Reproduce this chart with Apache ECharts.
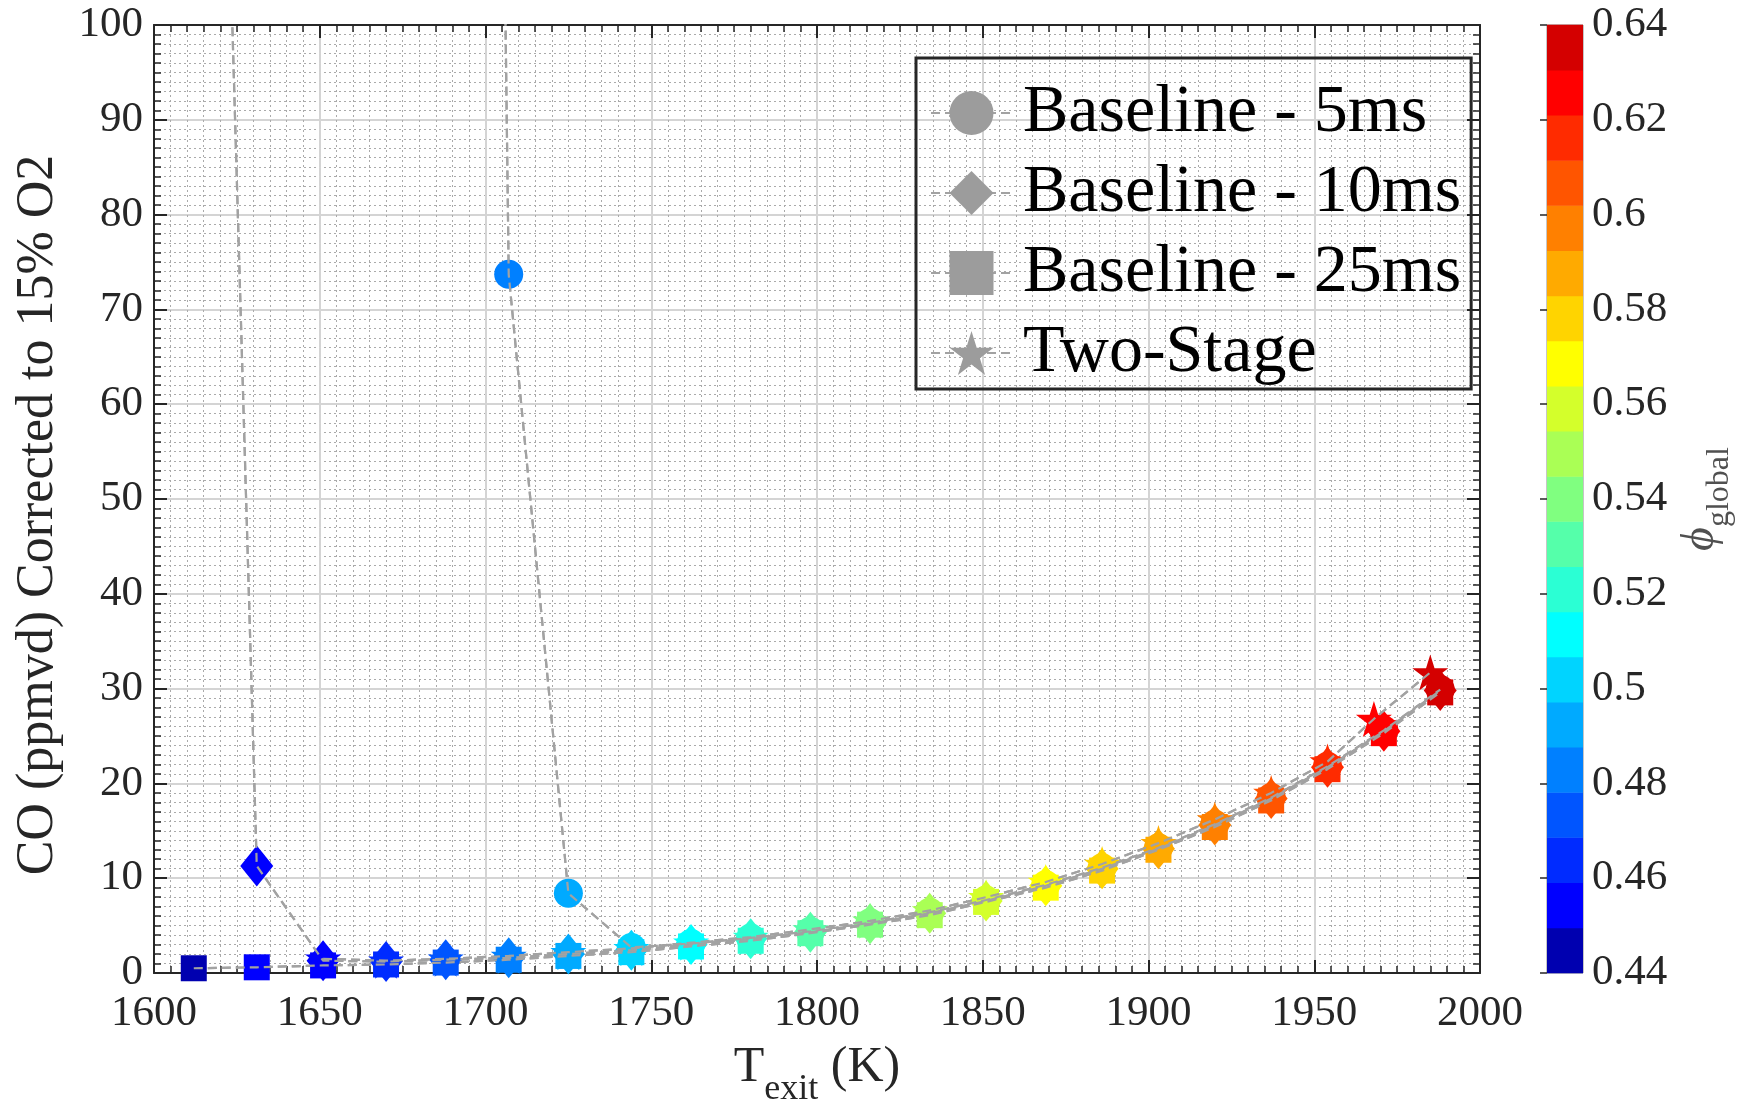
<!DOCTYPE html>
<html><head><meta charset="utf-8">
<script src="https://cdn.jsdelivr.net/npm/echarts@6/dist/echarts.min.js"></script>
<style>html,body{margin:0;padding:0;background:#fff;} #c{width:1748px;height:1112px;}</style>
</head><body><div id="c"></div>
<script>
// ---------- data ----------
const T        = [1612, 1631, 1651, 1670, 1688, 1707, 1725, 1744, 1762, 1780, 1798, 1816, 1834, 1851, 1869, 1886, 1903, 1920, 1937, 1954, 1971, 1988];
const PHI      = [0.442, 0.451, 0.458, 0.466, 0.475, 0.484, 0.494, 0.503, 0.513, 0.522, 0.532, 0.541, 0.551, 0.560, 0.570, 0.579, 0.589, 0.598, 0.608, 0.617, 0.627, 0.636];
const CO_5MS   = [null, null, null, null, 600, 73.7, 8.4, 2.7, 3.1, 3.7, 4.4, 5.3, 6.4, 7.7, 9.3, 11.1, 13.2, 15.7, 18.5, 21.8, 25.6, 29.9];
const CO_10MS  = [240, 11.3, 1.3, 1.2, 1.4, 1.6, 2.0, 2.4, 3.0, 3.6, 4.3, 5.2, 6.3, 7.6, 9.2, 11.0, 13.1, 15.6, 18.4, 21.7, 25.5, 29.8];
const CO_25MS  = [0.5, 0.6, 0.8, 0.9, 1.1, 1.4, 1.8, 2.2, 2.8, 3.4, 4.2, 5.1, 6.1, 7.5, 9.0, 10.8, 13.0, 15.4, 18.2, 21.5, 25.3, 29.6];
const T_TWO    = [1651, 1670, 1688, 1707, 1725, 1744, 1762, 1780, 1798, 1816, 1834, 1851, 1869, 1886, 1903, 1920, 1937, 1954, 1968, 1985];
const PHI_TWO  = [0.458, 0.466, 0.475, 0.484, 0.494, 0.503, 0.513, 0.522, 0.532, 0.541, 0.551, 0.560, 0.570, 0.579, 0.589, 0.598, 0.608, 0.617, 0.627, 0.636];
const CO_TWO   = [1.5, 1.3, 1.5, 1.8, 2.2, 2.6, 3.2, 3.8, 4.6, 5.5, 6.6, 8.0, 9.6, 11.5, 13.7, 16.2, 19.0, 22.3, 26.8, 31.7];
const SERIES_NAMES = ['Baseline - 5ms', 'Baseline - 10ms', 'Baseline - 25ms', 'Two-Stage'];
// colour map (jet, 21 levels) and its limits
const CB_COLORS = ['#0000B0', '#0000FF', '#002BFF', '#0055FF', '#0080FF', '#00AAFF', '#00D4FF', '#00FFFF', '#2BFFD4', '#55FFAA', '#80FF80', '#AAFF55', '#D4FF2B', '#FFFF00', '#FFD400', '#FFAA00', '#FF8000', '#FF5500', '#FF2B00', '#FF0000', '#D40000'];
const CB_MIN = 0.44, CB_MAX = 0.64, CB_STEP = 0.02;

// ---------- helpers ----------
const FONT = "'Liberation Serif', 'Times New Roman', serif";
const INK = '#262626';
const LINE = { color: '#a2a2a2', width: 2.2, type: [9, 5] };
const STAR = 'path://M0,-100L22.45,-30.9L95.1,-30.9L36.3,11.8L58.8,80.9L0,38.2L-58.8,80.9L-36.3,11.8L-95.1,-30.9L-22.45,-30.9Z';

function colorOf(phi) {
  const n = CB_COLORS.length;
  let k = Math.floor((phi - CB_MIN) / (CB_MAX - CB_MIN) * n);
  k = Math.max(0, Math.min(n - 1, k));
  return CB_COLORS[k];
}
function pts(xs, ys) {
  const out = [];
  xs.forEach((x, i) => { if (ys[i] !== null) out.push([x, ys[i]]); });
  return out;
}
function coloredPts(xs, ys, phis) {
  const out = [];
  xs.forEach((x, i) => { if (ys[i] !== null) out.push({ value: [x, ys[i]], itemStyle: { color: colorOf(phis[i]) } }); });
  return out;
}
function markerSeries(name, xs, ys, phis, symbol, size) {
  return {
    type: 'line', name: name, data: coloredPts(xs, ys, phis),
    symbol: symbol, symbolSize: size, showSymbol: true, showAllSymbol: true,
    lineStyle: LINE, itemStyle: { color: '#9c9c9c' },
    clip: true, z: 2, emphasis: { disabled: true }, silent: true
  };
}
function lineSeries(key, xs, ys) {
  return {
    type: 'line', name: '_line_' + key, data: pts(xs, ys), symbol: 'none',
    lineStyle: LINE, clip: true, z: 3, silent: true, emphasis: { disabled: true }
  };
}

const series = [
  markerSeries(SERIES_NAMES[2], T, CO_25MS, PHI, 'rect', 26),
  markerSeries(SERIES_NAMES[1], T, CO_10MS, PHI, 'diamond', [33, 41]),
  markerSeries(SERIES_NAMES[0], T, CO_5MS, PHI, 'circle', 29),
  markerSeries(SERIES_NAMES[3], T_TWO, CO_TWO, PHI_TWO, STAR, 36),
  lineSeries('25', T, CO_25MS),
  lineSeries('10', T, CO_10MS),
  lineSeries('5', T, CO_5MS),
  lineSeries('two', T_TWO, CO_TWO),
  {
    type: 'custom', xAxisIndex: 2, yAxisIndex: 2, silent: true,
    data: CB_COLORS.map((c, k) => [0.5, CB_MIN + k * (CB_MAX - CB_MIN) / CB_COLORS.length, CB_MIN + (k + 1) * (CB_MAX - CB_MIN) / CB_COLORS.length]),
    encode: { x: 0, y: [1, 2] },
    renderItem: function (params, api) {
      const a = api.coord([0, api.value(2)]);
      const b = api.coord([1, api.value(1)]);
      return { type: 'rect', shape: { x: a[0], y: a[1] - 0.3, width: b[0] - a[0], height: b[1] - a[1] + 0.6 },
               style: { fill: CB_COLORS[params.dataIndex] } };
    }
  }
];

const tickLabel = { fontFamily: FONT, fontSize: 43, color: INK, formatter: v => String(v) };
const boxAxisCommon = {
  axisLine: { show: true, onZero: false, lineStyle: { color: INK, width: 2 } },
  axisTick: { show: true, inside: true, length: 13, lineStyle: { color: INK, width: 2 } },
  minorTick: { show: true, splitNumber: 10, length: 7, lineStyle: { color: INK, width: 1.5 } }
};

const option = {
  animation: false,
  backgroundColor: '#ffffff',
  grid: [
    { left: 154, top: 25, width: 1326, height: 948, containLabel: false, outerBoundsMode: 'none' },
    { left: 1547, top: 25, width: 36, height: 948, show: true, borderColor: '#8c8c8c', borderWidth: 1, containLabel: false, outerBoundsMode: 'none' }
  ],
  xAxis: [
    Object.assign({
      type: 'value', gridIndex: 0, position: 'bottom', min: 1600, max: 2000, interval: 50,
      axisLabel: Object.assign({ margin: 19 }, tickLabel),
      splitLine: { show: true, lineStyle: { color: '#d4d4d4', width: 2 } },
      minorSplitLine: { show: true, lineStyle: { color: '#aaaaaa', width: 1, type: [2, 3] } },
      name: '{a|T}{b|exit}{a| (K)}', nameLocation: 'middle', nameGap: 55,
      nameTextStyle: { rich: {
        a: { fontFamily: FONT, fontSize: 50, color: INK, lineHeight: 80 },
        b: { fontFamily: FONT, fontSize: 36, color: INK, verticalAlign: 'bottom' }
      } }
    }, boxAxisCommon),
    Object.assign({
      type: 'value', gridIndex: 0, position: 'top', min: 1600, max: 2000, interval: 50,
      axisLabel: { show: false }, splitLine: { show: false }, minorSplitLine: { show: false }
    }, boxAxisCommon),
    { type: 'value', gridIndex: 1, min: 0, max: 1, show: false }
  ],
  yAxis: [
    Object.assign({
      type: 'value', gridIndex: 0, position: 'left', min: 0, max: 100, interval: 10,
      axisLabel: Object.assign({ margin: 11 }, tickLabel),
      splitLine: { show: true, lineStyle: { color: '#d4d4d4', width: 2 } },
      minorSplitLine: { show: true, lineStyle: { color: '#aaaaaa', width: 1, type: [2, 3] } },
      name: 'CO (ppmvd) Corrected to 15% O2', nameLocation: 'middle', nameGap: 90,
      nameTextStyle: { fontFamily: FONT, fontSize: 52, color: INK, padding: [0, 32, 0, 0] }
    }, boxAxisCommon),
    Object.assign({
      type: 'value', gridIndex: 0, position: 'right', min: 0, max: 100, interval: 10,
      axisLabel: { show: false }, splitLine: { show: false }, minorSplitLine: { show: false }
    }, boxAxisCommon),
    {
      type: 'value', gridIndex: 1, position: 'right', min: CB_MIN, max: CB_MAX, interval: CB_STEP,
      axisLine: { show: false },
      axisTick: { show: true, inside: true, length: 7, lineStyle: { color: INK, width: 1.5 } },
      axisLabel: Object.assign({ margin: 9 }, tickLabel),
      splitLine: { show: false },
      name: '{p|\u03D5}{s|global}', nameLocation: 'middle', nameGap: 83,
      nameTextStyle: { rich: {
        p: { fontFamily: FONT, fontSize: 46, fontStyle: 'italic', color: '#505050', lineHeight: 70 },
        s: { fontFamily: FONT, fontSize: 32, color: '#505050', verticalAlign: 'bottom' }
      } }
    }
  ],
  legend: {
    data: SERIES_NAMES.map(n => ({ name: n })),
    orient: 'vertical', left: 916, top: 58,
    padding: [20, 10, 1, 14],
    itemWidth: 81, itemHeight: 55, itemGap: 10,
    borderColor: INK, borderWidth: 3, backgroundColor: 'transparent',
    selectedMode: false,
    textStyle: { fontFamily: FONT, fontSize: 68, color: '#000', lineHeight: 70, padding: [0, 0, 0, 6] }
  },
  series: series
};

const chart = echarts.init(document.getElementById('c'), null, { renderer: 'canvas', width: 1748, height: 1112 });
chart.setOption(option);
</script></body></html>
